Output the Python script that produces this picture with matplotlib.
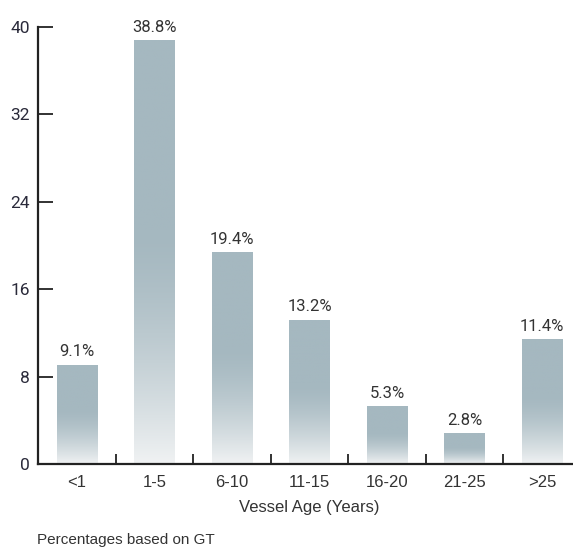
import matplotlib
matplotlib.use('Agg')
import matplotlib.pyplot as plt
import numpy as np
from matplotlib.colors import to_rgb
from matplotlib.ticker import FixedLocator

# data
age_groups = ['<1', '1-5', '6-10', '11-15', '16-20', '21-25', '>25']
share_pct = [9.1, 38.8, 19.4, 13.2, 5.3, 2.8, 11.4]
y_ticks = [0, 8, 16, 24, 32, 40]

narrow = ['Roboto', 'DejaVu Sans']
plain = ['Liberation Sans', 'DejaVu Sans']

fig = plt.figure(figsize=(5.73, 5.49), dpi=100)
ax = fig.add_axes([0.0668, 0.1548, 0.9468, 0.796])

x = np.arange(len(age_groups))
bars = ax.bar(x, share_pct, width=0.52, color='none', edgecolor='none')

# vertical fade: solid top, lighter towards the base
top_c = np.array(to_rgb('#a5b8c0'))
base_c = np.array(to_rgb('#f0f2f3'))
f = np.linspace(0, 1, 256)
w = np.clip(1 - f / 0.55, 0, 1) ** 1.5
grad = (top_c[None, :] * (1 - w[:, None]) + base_c[None, :] * w[:, None])
grad = grad.reshape(256, 1, 3)
for b in bars:
    x0, bw, h = b.get_x(), b.get_width(), b.get_height()
    im = ax.imshow(grad, origin='lower', aspect='auto',
                   extent=[x0, x0 + bw, 0, h], zorder=2)
    im.set_clip_path(b)

for xi, v in zip(x, share_pct):
    ax.annotate(f'{v:.1f}%', (xi, v), xytext=(0, 4), textcoords='offset points',
                ha='center', va='bottom', fontsize=12, color='#333333',
                family=narrow)

ax.set_xlim(-0.5, 6.5)
ax.set_ylim(0, 40)
ax.set_yticks(y_ticks)
ax.set_yticklabels([str(t) for t in y_ticks], family=narrow, fontsize=12.5,
                   color='#2a2a3a')
ax.set_xticks(x)
ax.set_xticklabels(age_groups, family=plain, fontsize=12, color='#333333')
ax.xaxis.set_minor_locator(FixedLocator(x[:-1] + 0.5))

ax.tick_params(axis='y', direction='in', length=11, width=1.3, pad=6,
               color='#222222')
ax.tick_params(axis='x', which='major', length=0, pad=8)
ax.tick_params(axis='x', which='minor', direction='in', length=7, width=1.3,
               color='#222222')

for s in ['top', 'right']:
    ax.spines[s].set_visible(False)
for s in ['left', 'bottom']:
    ax.spines[s].set_linewidth(1.6)
    ax.spines[s].set_color('#222222')

ax.set_xlabel('Vessel Age (Years)', family=plain, fontsize=12,
              color='#333333', labelpad=7)

fig.text(0.064, 0.004, 'Percentages based on GT', family=plain, fontsize=11,
         color='#333333', ha='left', va='bottom')

fig.savefig('out.png', dpi=100)
